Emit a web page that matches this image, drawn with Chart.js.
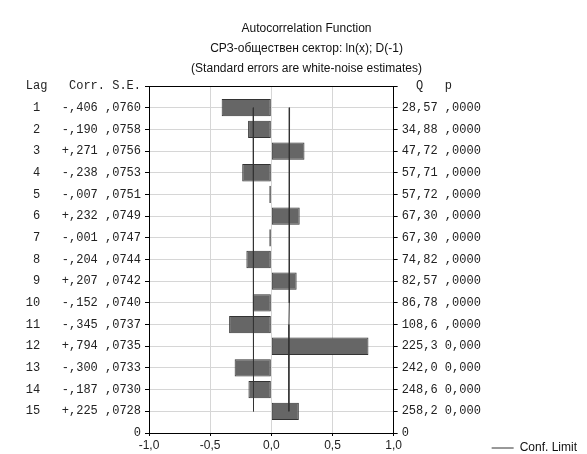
<!DOCTYPE html>
<html>
<head>
<meta charset="utf-8">
<script src="https://cdn.jsdelivr.net/npm/chart.js@4/dist/chart.umd.min.js"></script>
<style>
  html, body { margin: 0; padding: 0; background: #fff; }
  #wrap { width: 587px; height: 454px; }
</style>
</head>
<body>
<div id="wrap"><canvas id="acf"></canvas></div>
<script>
const lags = [1, 2, 3, 4, 5, 6, 7, 8, 9, 10, 11, 12, 13, 14, 15];
const corr = [-0.406, -0.190, 0.271, -0.238, -0.007, 0.232, -0.001, -0.204, 0.207, -0.152, -0.345, 0.794, -0.300, -0.187, 0.225];
const stdErr = [0.0760, 0.0758, 0.0756, 0.0753, 0.0751, 0.0749, 0.0747, 0.0744, 0.0742, 0.0740, 0.0737, 0.0735, 0.0733, 0.0730, 0.0728];
const qStat = [28.57, 34.88, 47.72, 57.71, 57.72, 67.30, 67.30, 74.82, 82.57, 86.78, 108.6, 225.3, 242.0, 248.6, 258.2];
const pLabels = [',0000', ',0000', ',0000', ',0000', ',0000', ',0000', ',0000', ',0000', ',0000', ',0000', ',0000', '0,000', '0,000', '0,000', '0,000'];
// confidence limit (+/-) per lag
const confLimit = [0.149, 0.149, 0.148, 0.148, 0.147, 0.147, 0.146, 0.146, 0.145, 0.145, 0.144, 0.144, 0.144, 0.143, 0.143];

const titleLines = ['Autocorrelation Function', 'СРЗ-обществен сектор: ln(x); D(-1)', '(Standard errors are white-noise estimates)'];
const leftHeader = 'Lag   Corr. S.E.';
const rightHeader = '  Q   p';

const mono = { family: "'Liberation Mono', 'DejaVu Sans Mono', monospace", size: 12 };
const sans = { family: "'Liberation Sans', Arial, sans-serif", size: 12 };

const fmtCorr = c => (c < 0 ? '-' : '+') + Math.abs(c).toFixed(3).slice(1).replace('.', ',');
const fmtSE = s => s.toFixed(4).slice(1).replace('.', ',');
const fmtQ = q => q.toPrecision(4).replace('.', ',');

const lastLag = lags[lags.length - 1];

function leftLabel(v) {
  if (v === 0) return leftHeader;
  if (v === lastLag + 1) return '0';
  const i = lags.indexOf(v);
  if (i < 0) return '';
  return String(lags[i]).padStart(2) + '   ' + fmtCorr(corr[i]) + ' ' + fmtSE(stdErr[i]);
}

function rightLabel(v) {
  if (v === 0) return rightHeader;
  if (v === lastLag + 1) return '0';
  const i = lags.indexOf(v);
  if (i < 0) return '';
  return fmtQ(qStat[i]) + ' ' + pLabels[i];
}

// the legend sits level with the x tick labels, below the right-hand table
const legendDrop = {
  id: 'legendDrop',
  afterLayout(chart) {
    chart.legend.top += 13;
    chart.legend.bottom += 13;
  }
};

const lagAxis = {
  type: 'linear',
  reverse: true,
  offset: false,
  min: 0,
  max: lastLag + 1,
  border: { color: '#000', width: 1 },
  ticks: { stepSize: 1, autoSkip: false, font: mono, color: '#222', padding: 4 },
  grid: { offset: false, tickLength: 4, tickColor: '#000' }
};

new Chart(document.getElementById('acf'), {
  type: 'bar',
  data: {
    datasets: [{
      label: 'Corr.',
      data: lags.map((l, i) => ({ x: corr[i], y: l })),
      backgroundColor: '#666666',
      borderColor: '#333333',
      borderWidth: 1,
      borderSkipped: false,
      minBarLength: 2,
      barPercentage: 0.8,
      categoryPercentage: 1,
      order: 2
    }, {
      type: 'line',
      label: 'Conf. Limit',
      indexAxis: 'y',
      data: lags.map((l, i) => ({ x: -confLimit[i], y: l })),
      borderColor: '#333',
      borderWidth: 1,
      pointRadius: 0,
      pointStyle: 'line',
      fill: false,
      order: 1
    }, {
      type: 'line',
      label: 'Conf. Limit',
      indexAxis: 'y',
      data: lags.map((l, i) => ({ x: confLimit[i], y: l })),
      borderColor: '#333',
      borderWidth: 1,
      pointRadius: 0,
      pointStyle: 'line',
      fill: false,
      order: 1
    }]
  },
  plugins: [legendDrop],
  options: {
    indexAxis: 'y',
    responsive: true,
    maintainAspectRatio: false,
    animation: false,
    layout: { padding: { left: 26, right: 0, top: 0, bottom: 3 } },
    scales: {
      x: {
        type: 'linear',
        min: -1,
        max: 1,
        afterFit: scale => { scale.height = 18; },
        border: { color: '#000', width: 1 },
        ticks: {
          stepSize: 0.5,
          font: Object.assign({ lineHeight: 1 }, sans),
          color: '#222',
          padding: 4,
          callback: v => v.toFixed(1).replace('.', ',')
        },
        grid: { color: '#d6d6d6', tickLength: 3, tickColor: '#000' }
      },
      y: Object.assign({}, lagAxis, {
        position: 'left',
        afterFit: scale => { scale.width = 123; },
        ticks: Object.assign({}, lagAxis.ticks, { callback: leftLabel }),
        grid: Object.assign({}, lagAxis.grid, {
          color: ctx => (ctx.tick && ctx.tick.value === 0 ? '#000' : '#d6d6d6')
        })
      }),
      y2: Object.assign({}, lagAxis, {
        position: 'right',
        afterFit: scale => { scale.width = 88; },
        ticks: Object.assign({}, lagAxis.ticks, { callback: rightLabel }),
        grid: Object.assign({}, lagAxis.grid, { drawOnChartArea: false })
      })
    },
    plugins: {
      title: {
        display: true,
        text: titleLines,
        color: '#111',
        font: Object.assign({ weight: 'normal', lineHeight: 20 / 12 }, sans),
        padding: { top: 19, bottom: 7 }
      },
      legend: {
        position: 'right',
        align: 'end',
        maxWidth: 120,
        labels: {
          filter: item => item.datasetIndex === 1,
          usePointStyle: true,
          pointStyleWidth: 22,
          boxWidth: 22,
          font: sans,
          color: '#111',
          padding: 10
        }
      },
      tooltip: { enabled: false }
    }
  }
});
</script>
</body>
</html>
